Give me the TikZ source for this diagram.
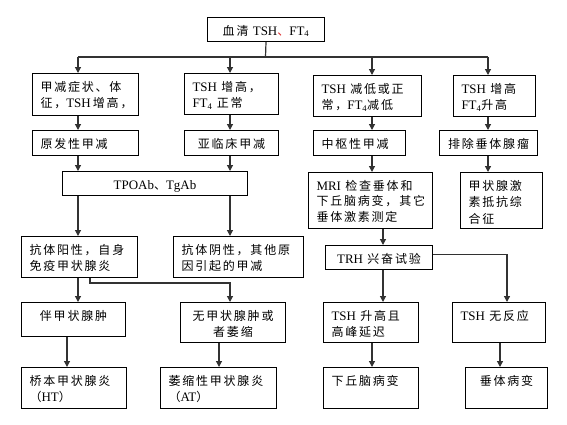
\documentclass[tikz,border=0pt]{standalone}
\usepackage{fontspec}
\setmainfont{Liberation Serif}[Scale=1.08]
\newfontfamily\cjk{Noto Sans CJK SC}[LetterSpace=15]
\usepackage{xcolor}
\usepackage{tikz}
\usetikzlibrary{
  arrows.meta
}
\definecolor{LineGray}{RGB}{50, 50, 50}
\definecolor{MarkRed}{RGB}{220, 40, 40}
\newcommand{\zh}[1]{{\cjk #1}}
\tikzset{
    box/.style={draw, line width=1pt, anchor=north west, inner xsep=8pt, inner ysep=6pt,
        text height=11.5pt, align=left, font=\fontsize{12}{16.5}\selectfont},
    sz/.style 2 args={text width=#1pt, text depth=#2pt},
    link/.style={draw=LineGray, line width=1.2pt},
    arr/.style={link, -{Triangle[length=6pt, width=6pt]}},
}

\begin{document}
\begin{tikzpicture}[x=1pt, y=-1pt]
            \useasboundingbox (0,0) rectangle (567,424);
            % columns of the connectors
            \coordinate (colA) at (78,0);
            \coordinate (colB) at (230,0);
            \coordinate (colC) at (372,0);
            \coordinate (colD) at (488,0);
            \coordinate (colG) at (67,0);
            \coordinate (colH) at (219,0);
            \coordinate (colM) at (383,0);
            \coordinate (colJ) at (507,0);
            \coordinate (colN) at (500,0);
            \coordinate (split) at (265.5,57);
            \coordinate (bendE) at (90,283);
            % boxes
            \node[box, sz={101}{0.5}, align=center] (top) at (207,17) {\zh{血清}~TSH\textcolor{MarkRed}{\zh{、}}FT\textsubscript{4}};
            \node[box, sz={90}{18.5}] (a1) at (32,73) {\zh{甲减症状、体}\\\zh{征，}TSH\,\zh{增高，}};
            \node[box, sz={78}{17.5}] (b1) at (184,73) {TSH~\zh{增高，}\\FT\textsubscript{4}~\zh{正常}};
            \node[box, sz={92}{17.5}] (c1) at (313,75) {TSH~\zh{减低或正}\\\zh{常，}FT\textsubscript{4}\zh{减低}};
            \node[box, sz={66}{17.5}] (d1) at (453,75) {TSH~\zh{增高}\\FT\textsubscript{4}\zh{升高}};
            \node[box, sz={90}{1.5}] (a2) at (32,130) {\zh{原发性甲减}};
            \node[box, sz={78}{1.5}, align=center] (b2) at (184,130) {\zh{亚临床甲减}};
            \node[box, sz={76}{1.5}] (c2) at (313,130) {\zh{中枢性甲减}};
            \node[box, sz={82}{1.5}, align=center] (d2) at (439,130) {\zh{排除垂体腺瘤}};
            \node[box, sz={169}{0.5}, align=center] (tpo) at (62,171) {TPOAb\zh{、}TgAb};
            \node[box, sz={108}{32.5}, font=\fontsize{12}{15.5}\selectfont] (mri) at (308,172) {MRI~\zh{检查垂体和}\\\zh{下丘脑病变，其它}\\\zh{垂体激素测定}};
            \node[box, sz={66}{32.5}] (rth) at (460,172) {\zh{甲状腺激}\\\zh{素抵抗综}\\\zh{合征}};
            \node[box, sz={100}{17.5}] (e) at (21,236) {\zh{抗体阳性，自身}\\\zh{免疫甲状腺炎}};
            \node[box, sz={114}{17.5}] (f) at (173,236) {\zh{抗体阴性，其他原}\\\zh{因引起的甲减}};
            \node[box, sz={91}{0}, align=center] (trh) at (325,245) {TRH~\zh{兴奋试验}};
            \node[box, sz={88}{10.5}, align=center] (g) at (21,302) {\zh{伴甲状腺肿}};
            \node[box, sz={89}{16.5}, align=center] (h) at (180,302) {\zh{无甲状腺肿或}\\\zh{者萎缩}};
            \node[box, sz={79}{16.5}] (i) at (323,302) {TSH~\zh{升高且}\\\zh{高峰延迟}};
            \node[box, sz={77}{16.5}] (j) at (452,302) {TSH~\zh{无反应}};
            \node[box, sz={89}{17.5}] (k) at (21,367) {\zh{桥本甲状腺炎}\\\zh{（}HT\zh{）}};
            \node[box, sz={100}{17.5}] (l) at (160,367) {\zh{萎缩性甲状腺炎}\\\zh{（}AT\zh{）}};
            \node[box, sz={79}{17.5}] (m) at (323,367) {\zh{下丘脑病变}};
            \node[box, sz={66}{17.5}, align=center] (n) at (465,367) {\zh{垂体病变}};
            % connectors
            \draw[link] (top.south) -- (split);
            \draw[link] (split -| colA) -- (split -| colD);
            \foreach \c/\n in {colA/a1, colB/b1, colC/c1, colD/d1}
                \draw[arr] (split -| \c) -- (\n.north -| \c);
            \foreach \c/\s/\t in {colA/a1/a2, colB/b1/b2, colC/c1/c2, colD/d1/d2,
                    colA/a2/tpo, colB/b2/tpo, colA/tpo/e, colB/tpo/f,
                    colC/c2/mri, colD/d2/rth, colM/mri/trh, colM/trh/i,
                    colA/e/g, colG/g/k, colH/h/l, colC/i/m, colN/j/n}
                \draw[arr] (\s.south -| \c) -- (\t.north -| \c);
            \draw[arr] (e.south -| bendE) -- (bendE) -| (h.north -| colB);
            \draw[arr] ([yshift=3pt]trh.east) -| (j.north -| colJ);
        \end{tikzpicture}
\end{document}
